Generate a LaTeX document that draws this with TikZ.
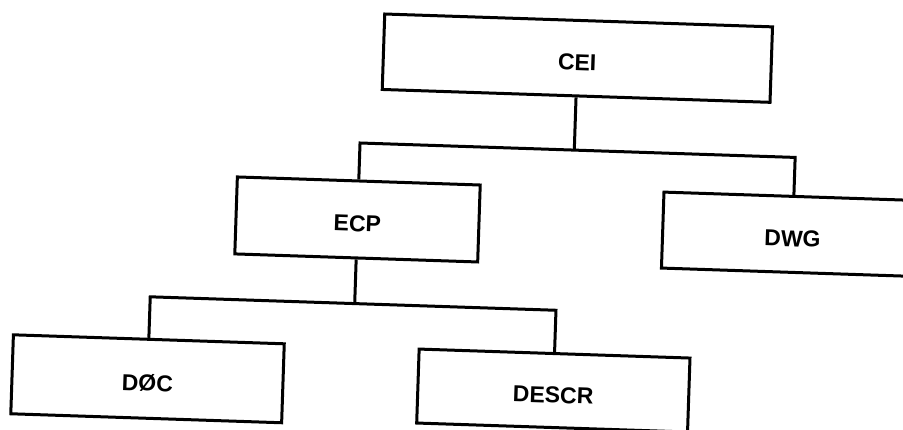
\documentclass[tikz,border=0pt]{standalone}
\usepackage{fontspec}
\setmainfont{Liberation Sans}
\begin{document}
\begin{tikzpicture}[x=1pt,y=-1pt,
  unit/.style={draw=black, line width=3pt, rectangle, inner sep=0pt,
    font=\fontsize{23}{28}\selectfont\bfseries,
    text height=24.5pt, text depth=0pt},
  link/.style={draw=black, line width=3pt}]
\clip (0,0) rectangle (903,430);
\fill[white] (0,0) rectangle (903,430);
% the whole chart is drawn slightly turned, as on the sheet
\begin{scope}[rotate=-1.9, transform shape]
  \node[unit, minimum width=388pt, minimum height=75.5pt] (cei)   at (579,39)     {CEI};
  \node[unit, minimum width=243pt, minimum height=77pt]   (ecp)   at (364.6,207.5) {ECP};
  \node[unit, minimum width=260pt, minimum height=76pt]   (dwg)   at (800,208)    {DWG};
  \node[unit, minimum width=271pt, minimum height=79pt]   (doc)   at (160,373.7)  {DØC};
  \node[unit, minimum width=271pt, minimum height=74pt]   (descr) at (566,372)    {DESCR};
  % levels of the two branch lines
  \coordinate (busA) at (0,131);
  \coordinate (busB) at (0,291.7);
  % CEI splits into ECP and DWG
  \draw[link] (cei.south) -- (cei.south |- busA);
  \draw[link] (ecp.north) -- (ecp.north |- busA) -- (dwg.north |- busA) -- (dwg.north);
  % ECP splits into DØC and DESCR
  \draw[link] (ecp.south) -- (ecp.south |- busB);
  \draw[link] (doc.north) -- (doc.north |- busB) -- (descr.north |- busB) -- (descr.north);
\end{scope}
\end{tikzpicture}
\end{document}
